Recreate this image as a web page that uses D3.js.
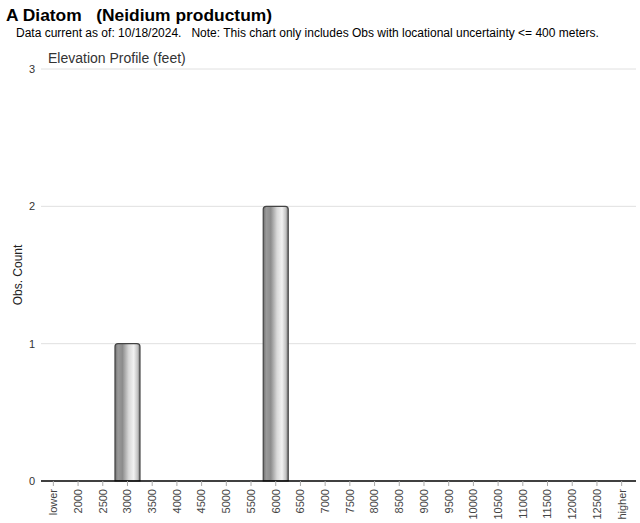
<!DOCTYPE html>
<html><head><meta charset="utf-8">
<script src="https://cdn.jsdelivr.net/npm/d3@7"></script>
<style>body{margin:0;background:#fff;font-family:Arial,"Liberation Sans",sans-serif}</style>
</head><body>
<svg id="c" width="640" height="523"></svg>
<script>
const categories = ["lower","2000","2500","3000","3500","4000","4500","5000","5500","6000","6500","7000","7500","8000","8500","9000","9500","10000","10500","11000","11500","12000","12500","higher"];
const counts = [0,0,0,1,0,0,0,0,0,2,0,0,0,0,0,0,0,0,0,0,0,0,0,0];
const yTicks = [0,1,2,3];

const svg = d3.select("#c");
const m = {l:41, r:634, t:69, b:481};
const x = d3.scaleBand().domain(categories).range([m.l, m.r]).padding(0);
const y = d3.scaleLinear().domain([0,3]).range([m.b, m.t]);

const defs = svg.append("defs");
const g = defs.append("linearGradient").attr("id","cyl").attr("x1","0").attr("x2","1").attr("y1","0").attr("y2","0");
[[0,"#6e6e6e"],[0.12,"#9a9a9a"],[0.3,"#8c8c8c"],[0.55,"#d8d8d8"],[0.75,"#f2f2f2"],[0.9,"#c4c4c4"],[1,"#7a7a7a"]].forEach(([o,c])=>g.append("stop").attr("offset",o).attr("stop-color",c));

svg.append("text").attr("x",6).attr("y",21).attr("font-size",17.4).attr("font-weight","bold").attr("fill","#000").attr("xml:space","preserve").text("A Diatom   (Neidium productum)");
svg.append("text").attr("x",16).attr("y",37).attr("font-size",12).attr("fill","#000").attr("xml:space","preserve").text("Data current as of: 10/18/2024.   Note: This chart only includes Obs with locational uncertainty <= 400 meters.");
svg.append("text").attr("x",48).attr("y",63).attr("font-size",14).attr("fill","#333").text("Elevation Profile (feet)");

// gridlines
svg.append("g").selectAll("line").data(yTicks.filter(d=>d>0)).join("line")
  .attr("x1",m.l).attr("x2",636).attr("y1",d=>y(d)).attr("y2",d=>y(d)).attr("stroke","#e0e0e0");
svg.append("g").selectAll("text").data(yTicks).join("text")
  .attr("x",35).attr("y",d=>y(d)+4).attr("text-anchor","end").attr("font-size",11).attr("fill","#333").text(d=>d);

svg.append("text").attr("transform","translate(22,275) rotate(-90)").attr("text-anchor","middle").attr("font-size",12).attr("fill","#222").text("Obs. Count");

// bars
const bw = 25;
svg.append("g").selectAll("path").data(categories.map((c,i)=>({c,v:counts[i]})).filter(d=>d.v>0)).join("path")
  .attr("d",d=>{
    const cx = x(d.c)+x.bandwidth()/2, x0=cx-bw/2, x1=cx+bw/2, yt=y(d.v), yb=y(0), r=3;
    return `M${x0},${yb}L${x0},${yt+r}Q${x0},${yt} ${x0+r},${yt}L${x1-r},${yt}Q${x1},${yt} ${x1},${yt+r}L${x1},${yb}Z`;
  })
  .attr("fill","url(#cyl)").attr("stroke","#444").attr("stroke-width",1.2);

// x axis
const ax = svg.append("g").attr("transform",`translate(0,${m.b})`)
  .call(d3.axisBottom(x).tickSize(5).tickSizeOuter(0));
ax.select(".domain").attr("stroke","#000").attr("stroke-width",1.5).attr("d",`M${m.l},0H636`);
ax.selectAll(".tick line").attr("stroke","#aaa");
ax.selectAll(".tick text").attr("font-size",11).attr("fill","#444").attr("font-family","Arial,'Liberation Sans',sans-serif")
  .attr("transform","rotate(-90)").attr("text-anchor","end").attr("x",-8).attr("y",0).attr("dy","0.35em");
</script>
</body></html>
